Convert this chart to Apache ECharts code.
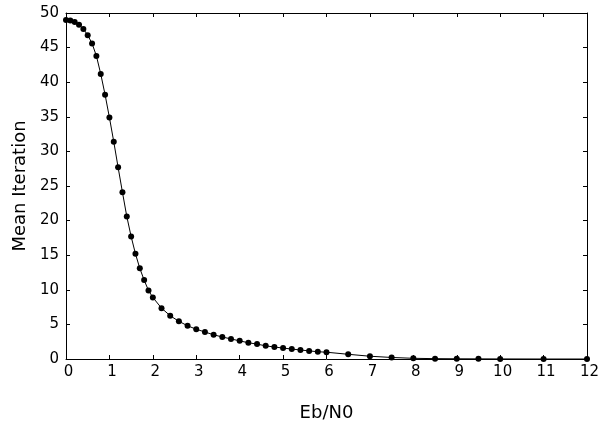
<!DOCTYPE html>
<html>
<head>
<meta charset="utf-8">
<script src="https://cdn.jsdelivr.net/npm/echarts@6/dist/echarts.min.js"></script>
<style>
  html, body { margin: 0; padding: 0; background: #fff; }
  #chart { width: 601px; height: 421px; }
</style>
</head>
<body>
<div id="chart"></div>
<script>
// Eb/N0 values (x) and mean iteration count (y)
var ebn0 = [0, 0.1, 0.2, 0.3, 0.4, 0.5, 0.6, 0.7, 0.8, 0.9, 1.0,
    1.1, 1.2, 1.3, 1.4, 1.5, 1.6, 1.7, 1.8, 1.9, 2.0,
    2.2, 2.4, 2.6, 2.8, 3.0, 3.2, 3.4, 3.6, 3.8, 4.0,
    4.2, 4.4, 4.6, 4.8, 5.0, 5.2, 5.4, 5.6, 5.8, 6.0,
    6.5, 7.0, 7.5, 8.0, 8.5, 9.0, 9.5, 10, 11, 12];
var meanIter = [49.0, 48.9, 48.7, 48.3, 47.7, 46.8, 45.6, 43.8, 41.2, 38.2, 34.9,
    31.4, 27.7, 24.1, 20.6, 17.7, 15.2, 13.1, 11.4, 9.9, 8.9,
    7.35, 6.25, 5.45, 4.8, 4.3, 3.9, 3.5, 3.18, 2.9, 2.62,
    2.35, 2.15, 1.9, 1.73, 1.58, 1.44, 1.3, 1.17, 1.05, 0.98,
    0.68, 0.4, 0.22, 0.1, 0.05, 0.03, 0.02, 0.01, 0, 0];

var myChart = echarts.init(document.getElementById('chart'));

var points = [];
for (var i = 0; i < ebn0.length; i++) {
    points.push([ebn0[i], meanIter[i]]);
}

var lineStyle = { color: '#000', width: 1 };
var tickStyle = { show: true, inside: true, length: 4, lineStyle: { color: '#000', width: 1 } };
var font = 'DejaVu Sans';

var option = {
    animation: false,
    backgroundColor: '#fff',
    grid: { left: 66, right: 14, top: 13, bottom: 62, containLabel: false, outerBoundsMode: 'none' },
    xAxis: [{
        type: 'value', min: 0, max: 12, interval: 1,
        name: 'Eb/N0', nameLocation: 'middle', nameGap: 45,
        nameTextStyle: { color: '#000', fontSize: 18, fontFamily: font },
        axisLine: { show: true, onZero: false, lineStyle: lineStyle },
        axisTick: tickStyle,
        axisLabel: { color: '#000', fontSize: 15, fontFamily: font, margin: 6, padding: [0, 0, 0, 5] },
        splitLine: { show: false }
    }, {
        type: 'value', min: 0, max: 12, interval: 1, position: 'top',
        axisLine: { show: true, onZero: false, lineStyle: lineStyle },
        axisTick: tickStyle,
        axisLabel: { show: false },
        splitLine: { show: false }
    }],
    yAxis: [{
        type: 'value', min: 0, max: 50, interval: 5,
        name: 'Mean Iteration', nameLocation: 'middle', nameGap: 34, nameRotate: 90,
        nameTextStyle: { color: '#000', fontSize: 18, fontFamily: font },
        axisLine: { show: true, onZero: false, lineStyle: lineStyle },
        axisTick: tickStyle,
        axisLabel: { color: '#000', fontSize: 15, fontFamily: font, margin: 7 },
        splitLine: { show: false }
    }, {
        type: 'value', min: 0, max: 50, interval: 5, position: 'right',
        axisLine: { show: true, onZero: false, lineStyle: lineStyle },
        axisTick: tickStyle,
        axisLabel: { show: false },
        splitLine: { show: false }
    }],
    series: [{
        type: 'line',
        data: points,
        symbol: 'circle',
        symbolSize: 6,
        itemStyle: { color: '#000' },
        lineStyle: { color: '#000', width: 1 },
        clip: false
    }]
};

myChart.setOption(option);
</script>
</body>
</html>
